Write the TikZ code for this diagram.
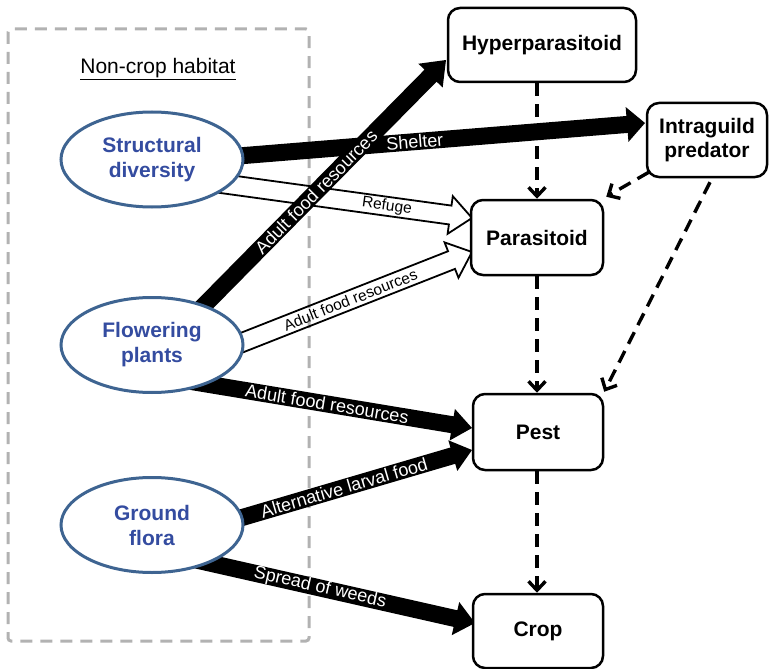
\documentclass[tikz,border=0pt]{standalone}
\usepackage{fontspec}
\setmainfont{Liberation Sans}
\usetikzlibrary{shapes.geometric,calc,arrows.meta}

\pgfdeclarelayer{back}
\pgfsetlayers{back,main}

\definecolor{habitatgray}{RGB}{178,178,178}
\definecolor{ellipseblue}{RGB}{62,100,145}
\definecolor{textblue}{RGB}{52,76,160}

% Block arrow from #2 to #3: #4 half shaft width, #5 head length, #6 half head width
\newcommand\blockarrow[6]{%
  \path[#1] ($(#2)!#4!90:(#3)$)
    -- ($(#3)!#5!(#2)!#4!-90:(#2)$)
    -- ($(#3)!#5!(#2)!#6!-90:(#2)$)
    -- (#3)
    -- ($(#3)!#5!(#2)!#6!90:(#2)$)
    -- ($(#3)!#5!(#2)!#4!90:(#2)$)
    -- ($(#2)!#4!-90:(#3)$) -- cycle;}

\begin{document}
\begin{tikzpicture}[x=1pt,y=-1pt,
  taxon/.style={draw, line width=2.5pt, rounded corners=12pt, fill=white,
    font=\fontsize{21}{24}\selectfont\bfseries, align=center, inner sep=0pt},
  habitatel/.style={ellipse, draw=ellipseblue, line width=3pt, fill=white,
    minimum width=182pt, minimum height=95pt, inner sep=0pt, text=textblue,
    font=\fontsize{21}{25}\selectfont\bfseries, align=center},
  solidarrow/.style={fill=black},
  openarrow/.style={draw=black, line width=1.8pt, line join=miter},
  whitelbl/.style={text=white, font=\fontsize{18}{20}\selectfont, sloped, inner sep=0pt},
  blacklbl/.style={text=black, font=\fontsize{15.5}{18}\selectfont, sloped, inner sep=0pt},
  effect/.style={draw, line width=3.4pt, dash pattern=on 13pt off 8pt,
    -{Straight Barb[length=9pt,width=17pt]}},
  habitatbox/.style={draw=habitatgray, line width=3pt, dash pattern=on 12pt off 8pt,
    rounded corners=3pt},
]
\useasboundingbox (0,0) rectangle (769,669);

% habitat elements
\node[habitatel] (sd) at (152,159.5) {Structural\\diversity};
\node[habitatel] (fp) at (152,345) {Flowering\\plants};
\node[habitatel] (gf) at (152,525) {Ground\\flora};

% food web members
\node[taxon, minimum width=188pt, minimum height=74pt] (hp) at (542,45) {Hyperparasitoid};
\node[taxon, minimum width=120pt, minimum height=74pt] (ig) at (707,140) {Intraguild\\predator};
\node[taxon, minimum width=132pt, minimum height=75pt] (ps) at (537,237.5) {Parasitoid};
\node[taxon, minimum width=130pt, minimum height=76pt] (pest) at (538,432) {Pest};
\node[taxon, minimum width=130pt, minimum height=74pt] (crop) at (538,631) {Crop};

% arrow end points
\coordinate (a0) at ($(sd.center)+(0,3.5)$);
\coordinate (a1) at ($(ig.center)+(-62,-17)$);
\coordinate (r0) at ($(sd.center)+(0,14.5)$);
\coordinate (r1) at ($(ps.center)+(-65,-19.5)$);
\coordinate (b0) at ($(fp.center)+(14,-1)$);
\coordinate (b1) at ($(hp.center)+(-96,15)$);
\coordinate (c0) at ($(fp.center)+(0,30)$);
\coordinate (c1) at ($(pest.center)+(-66,-4)$);
\coordinate (f0) at ($(fp.center)+(0,33)$);
\coordinate (f1) at ($(ps.center)+(-65,14.5)$);
\coordinate (d0) at ($(gf.center)+(0,19)$);
\coordinate (d1) at ($(pest.center)+(-66,18)$);
\coordinate (e0) at ($(gf.center)+(0,25)$);
\coordinate (e1) at ($(crop.center)+(-63,-8)$);

\begin{pgfonlayer}{back}
  % non-crop habitat frame
  \draw[habitatbox] (8,29) rectangle (309,641);
  \node[font=\fontsize{21}{24}\selectfont] (title) at (158,69) {\underline{Non-crop habitat}};

  % refuge and food links to the parasitoid
  \blockarrow{openarrow}{r0}{r1}{9.5pt}{22pt}{19pt}
  \path (r0) -- (r1) node[blacklbl, pos=0.734] {Refuge};
  \blockarrow{openarrow}{f0}{f1}{9.5pt}{22pt}{19pt}
  \path (f0) -- (f1) node[blacklbl, pos=0.62] {Adult food resources};

  % strong links
  \blockarrow{solidarrow}{a0}{a1}{8.5pt}{18pt}{17.5pt}
  \path (a0) -- (a1) node[whitelbl, pos=0.533] {Shelter};
  \blockarrow{solidarrow}{c0}{c1}{8.5pt}{20pt}{16pt}
  \path (c0) -- (c1) node[whitelbl, pos=0.547] {Adult food resources};
  \blockarrow{solidarrow}{d0}{d1}{8.5pt}{20pt}{16pt}
  \path (d0) -- (d1) node[whitelbl, pos=0.6] {Alternative larval food};
  \blockarrow{solidarrow}{e0}{e1}{8.5pt}{20pt}{17pt}
  \path (e0) -- (e1) node[whitelbl, pos=0.52] {Spread of weeds};
  \blockarrow{solidarrow}{b0}{b1}{8.5pt}{22pt}{17pt}
  \path (b0) -- (b1) node[whitelbl, pos=0.536] {Adult food resources};
\end{pgfonlayer}

% trophic interactions
\draw[effect] (hp.south -| ps.north) -- (ps.north);
\draw[effect] ($(ig.south west)+(3,-6)$) -- ($(ps.north east)+(2,-2)$);
\draw[effect] ($(ig.south)+(3,4)$) -- ($(pest.north east)+(0,-1)$);
\draw[effect] (ps.south) -- (ps.south |- pest.north);
\draw[effect] (pest.south -| ps.south) -- (crop.north -| ps.south);
\end{tikzpicture}
\end{document}
